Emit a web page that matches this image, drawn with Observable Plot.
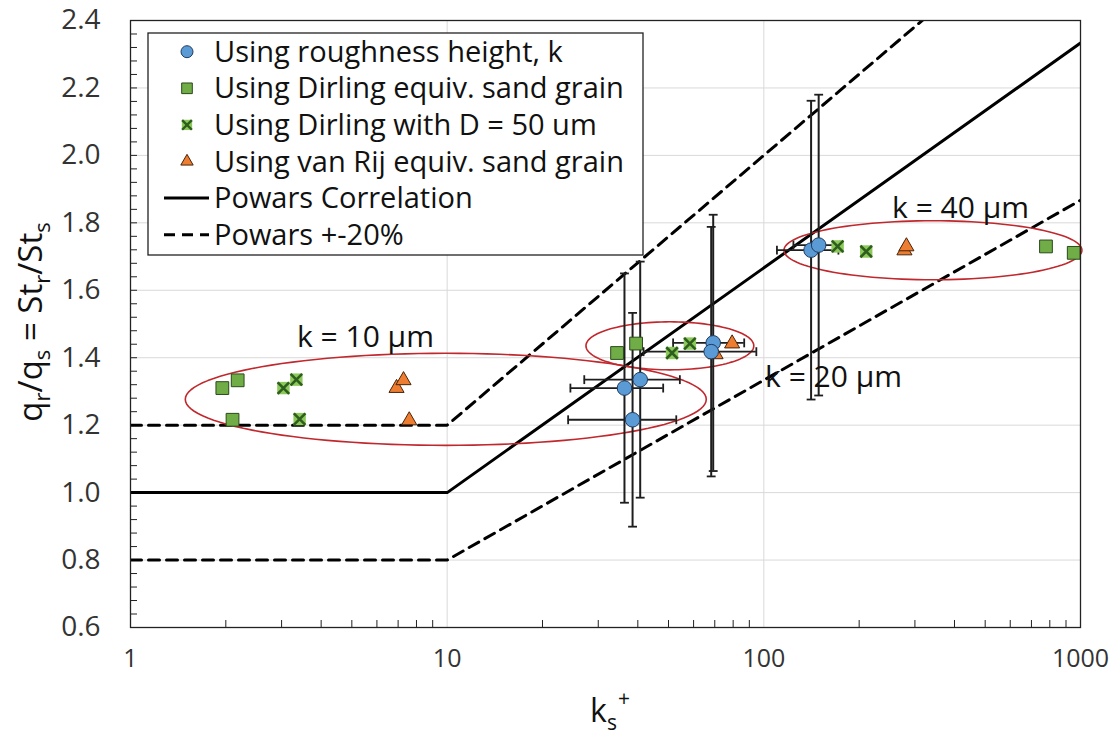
<!DOCTYPE html>
<html><head><meta charset="utf-8">
<script src="https://cdn.jsdelivr.net/npm/d3@7"></script>
<script src="https://cdn.jsdelivr.net/npm/@observablehq/plot@0.6"></script>
<style>body{margin:0;background:#fff;}</style>
</head><body><div id="chart"></div>
<script>
const FONT = "'Open Sans', Lato, sans-serif";

// ---- Data ----
// Using roughness height, k (blue circles) with error bars
const roughX    = [36.3, 40.7, 38.5, 69.2, 68.2, 141, 149];
const roughY    = [1.31, 1.335, 1.216, 1.444, 1.418, 1.719, 1.734];
const roughXErr = [11.8, 13.6, 14.4, 17.5, 26.5, 31, 25];
const roughYErr = [0.34, 0.35, 0.317, 0.38, 0.37, 0.443, 0.446];
// Using Dirling equiv. sand grain (green squares)
const dirlingX = [1.95, 2.18, 2.10, 34.4, 39.5, 778, 952];
const dirlingY = [1.31, 1.333, 1.216, 1.414, 1.442, 1.73, 1.711];
// Using Dirling with D = 50 um (green crosses)
const dirling50X = [3.04, 3.34, 3.42, 51.3, 58.4, 171, 210.5];
const dirling50Y = [1.31, 1.335, 1.218, 1.414, 1.442, 1.73, 1.715];
// Using van Rij equiv. sand grain (orange triangles)
const vanRijX = [6.92, 7.28, 7.59, 79.4, 70.4, 278, 282];
const vanRijY = [1.31, 1.333, 1.214, 1.442, 1.41, 1.718, 1.73];
// Powars correlation and +-20% band
const powarsX  = [1, 10, 1000];
const powarsY  = [1.0, 1.0, 2.333];
const upperY   = [1.2, 1.2, 2.8];
const lowerY   = [0.8, 0.8, 1.867];
// Cluster annotations (ellipse centre x, centre y, x-radius in decades, y-radius)
const clusterLabels = ["k = 10 µm", "k = 20 µm", "k = 40 µm"];
const clusterCX  = [9.9, 50.5, 342];
const clusterCY  = [1.2766, 1.4353, 1.7187];
const clusterRX  = [0.8226, 0.265, 0.4705];
const clusterRY  = [0.1365, 0.0712, 0.0875];
const labelX     = [5.52, 166, 418];
const labelY     = [1.4605, 1.342, 1.843];
// Axes
const xTicks = [1, 10, 100, 1000];
const yTicks = [0.6, 0.8, 1.0, 1.2, 1.4, 1.6, 1.8, 2.0, 2.2, 2.4];
const xMinor = [2,3,4,5,6,7,8,9,20,30,40,50,60,70,80,90,200,300,400,500,600,700,800,900];
const yMinor = d3.range(0, 46).map(i => +(0.6 + i * 0.04).toFixed(2));
const legendLabels = ["Using roughness height, k", "Using Dirling equiv. sand grain",
  "Using Dirling with D = 50 um", "Using van Rij equiv. sand grain", "Powars Correlation", "Powars +-20%"];

// ---- Build tables ----
const rough = roughX.map((x, i) => ({x, y: roughY[i], ex: roughXErr[i], ey: roughYErr[i]}));
const pts = (xs, ys) => xs.map((x, i) => ({x, y: ys[i]}));
const dirling = pts(dirlingX, dirlingY);
const dirling50 = pts(dirling50X, dirling50Y);
const vanRij = pts(vanRijX, vanRijY);
const powars = pts(powarsX, powarsY);
const upper = pts(powarsX, upperY);
const lower = pts(powarsX, lowerY);
const capsV = rough.flatMap(d => [{x: d.x, y: d.y - d.ey}, {x: d.x, y: d.y + d.ey}]);
const capsH = rough.flatMap(d => [{x: d.x - d.ex, y: d.y}, {x: d.x + d.ex, y: d.y}]);
const ellipses = clusterCX.flatMap((cx, k) => d3.range(0, 361, 3).map(a => {
  const t = a * Math.PI / 180;
  return {id: k, x: Math.pow(10, Math.log10(cx) + clusterRX[k] * Math.cos(t)), y: clusterCY[k] + clusterRY[k] * Math.sin(t)};
}));
const labels = clusterLabels.map((t, i) => ({t, x: labelX[i], y: labelY[i]}));

const capH = {draw(ctx, size) { const w = Math.sqrt(size); ctx.moveTo(-w / 2, 0); ctx.lineTo(w / 2, 0); }};
const capVs = {draw(ctx, size) { const w = Math.sqrt(size); ctx.moveTo(0, -w / 2); ctx.lineTo(0, w / 2); }};

const BLUE = "#5B9BD5", BLUE_S = "#1F3A5F";
const GREEN = "#70AD47", GREEN_S = "#2A4A1A";
const XBG = "#8DC85A", XFG = "#2E5E1E";
const ORANGE = "#ED7D31", ORANGE_S = "#4A2408";
const BAR = "#1e1e1e";

const chart = Plot.plot({
  width: 1120, height: 744,
  marginLeft: 130, marginRight: 40, marginTop: 20, marginBottom: 117,
  style: {fontFamily: FONT, fontSize: "25px", color: "#333", background: "#fff"},
  x: {type: "log", domain: [1, 1000]},
  y: {domain: [0.6, 2.4]},
  marks: [
    Plot.gridX(xTicks, {stroke: "#d9d9d9", strokeOpacity: 1}),
    Plot.gridY(yTicks, {stroke: "#d9d9d9", strokeOpacity: 1}),
    Plot.axisX({ticks: xTicks, tickSize: 0, tickPadding: 22, tickFormat: d => String(d), label: null, fill: "#333", fontSize: 25}),
    Plot.axisY({ticks: yTicks, tickSize: 0, tickPadding: 30, tickFormat: d3.format(".1f"), label: null, fill: "#333", fontSize: 28}),
    Plot.axisX({ticks: xMinor, tickSize: 7, dy: -7, tickFormat: () => "", label: null, stroke: "#222"}),
    Plot.axisY({ticks: yMinor, tickSize: 7, dx: 7, tickFormat: () => "", label: null, stroke: "#222"}),
    Plot.line(powars, {x: "x", y: "y", stroke: "#000", strokeWidth: 3, clip: true}),
    Plot.line(upper, {x: "x", y: "y", stroke: "#000", strokeWidth: 3, strokeDasharray: "11,7", clip: true}),
    Plot.line(lower, {x: "x", y: "y", stroke: "#000", strokeWidth: 3, strokeDasharray: "11,7", clip: true}),
    Plot.line(ellipses, {x: "x", y: "y", z: "id", stroke: "#C0282D", strokeWidth: 1.6}),
    Plot.ruleX(rough, {x: "x", y1: d => d.y - d.ey, y2: d => d.y + d.ey, stroke: BAR, strokeWidth: 2}),
    Plot.ruleY(rough, {y: "y", x1: d => d.x - d.ex, x2: d => d.x + d.ex, stroke: BAR, strokeWidth: 1.8}),
    Plot.dot(capsV, {x: "x", y: "y", symbol: capH, r: 5, stroke: BAR, strokeWidth: 1.8}),
    Plot.dot(capsH, {x: "x", y: "y", symbol: capVs, r: 5, stroke: BAR, strokeWidth: 1.8}),
    Plot.dot(dirling, {x: "x", y: "y", symbol: "square", r: 7.2, fill: GREEN, stroke: GREEN_S, strokeWidth: 1}),
    Plot.dot(dirling50, {x: "x", y: "y", symbol: "square", r: 7, fill: XBG, stroke: "none"}),
    Plot.dot(dirling50, {x: "x", y: "y", symbol: "times", r: 5.3, stroke: XFG, strokeWidth: 2.6}),
    Plot.dot(vanRij, {x: "x", y: "y", symbol: "triangle", r: 5.6, fill: ORANGE, stroke: ORANGE_S, strokeWidth: 1}),
    Plot.dot(rough, {x: "x", y: "y", symbol: "circle", r: 7.3, fill: BLUE, stroke: BLUE_S, strokeWidth: 1}),
    Plot.text(labels, {x: "x", y: "y", text: "t", fontSize: 30, fill: "#111", fontFamily: FONT}),
    Plot.frame({stroke: "#222", strokeWidth: 1.3})
  ]
});
document.getElementById("chart").appendChild(chart);

// ---- Axis titles and legend ----
const svg = d3.select(chart);
const yt = svg.append("text").attr("transform", "translate(42,322) rotate(-90)")
  .attr("text-anchor", "middle").attr("font-size", 33).attr("fill", "#111").attr("font-family", FONT);
[["q", 0], ["r", 1], ["/q", -1], ["s", 1], [" = St", -1], ["r", 1], ["/St", -1], ["s", 1]].forEach(([t, s]) => {
  const ts = yt.append("tspan").text(t);
  if (s === 1) ts.attr("font-size", 22).attr("dy", 8);
  if (s === -1) ts.attr("dy", -8);
});
const xt = svg.append("text").attr("x", 610).attr("y", 722).attr("text-anchor", "middle")
  .attr("font-size", 32).attr("fill", "#111").attr("font-family", FONT);
xt.append("tspan").text("k");
xt.append("tspan").text("s").attr("font-size", 21).attr("dy", 8);
xt.append("tspan").text("+").attr("font-size", 21).attr("dx", 1).attr("dy", -24);

const lg = svg.append("g").attr("font-family", FONT).attr("font-size", 29).attr("text-anchor", "start");
lg.append("rect").attr("x", 148).attr("y", 33).attr("width", 495).attr("height", 222)
  .attr("fill", "#fff").attr("stroke", "#222").attr("stroke-width", 1.3);
const rowY = i => 51.7 + i * 36.6;
const mx = 187;
const sym = (type, r) => d3.symbol(type, Math.PI * r * r)();
lg.append("path").attr("d", sym(d3.symbolCircle, 6)).attr("transform", `translate(${mx},${rowY(0)})`).attr("fill", BLUE).attr("stroke", BLUE_S);
lg.append("path").attr("d", sym(d3.symbolSquare, 6)).attr("transform", `translate(${mx},${rowY(1)})`).attr("fill", GREEN).attr("stroke", GREEN_S);
lg.append("path").attr("d", sym(d3.symbolSquare, 5.8)).attr("transform", `translate(${mx},${rowY(2)})`).attr("fill", XBG);
lg.append("path").attr("d", sym(d3.symbolTimes, 4.5)).attr("transform", `translate(${mx},${rowY(2)})`).attr("fill", "none").attr("stroke", XFG).attr("stroke-width", 2.4);
lg.append("path").attr("d", sym(d3.symbolTriangle, 4.6)).attr("transform", `translate(${mx},${rowY(3)})`).attr("fill", ORANGE).attr("stroke", ORANGE_S);
lg.append("line").attr("x1", 164).attr("x2", 209).attr("y1", rowY(4)).attr("y2", rowY(4)).attr("stroke", "#000").attr("stroke-width", 3);
lg.append("line").attr("x1", 164).attr("x2", 209).attr("y1", rowY(5)).attr("y2", rowY(5)).attr("stroke", "#000").attr("stroke-width", 3).attr("stroke-dasharray", "11,7");
legendLabels.forEach((t, i) => {
  lg.append("text").attr("x", 214).attr("y", rowY(i)).attr("dy", "0.35em").attr("fill", "#111").text(t);
});
</script>
</body></html>
